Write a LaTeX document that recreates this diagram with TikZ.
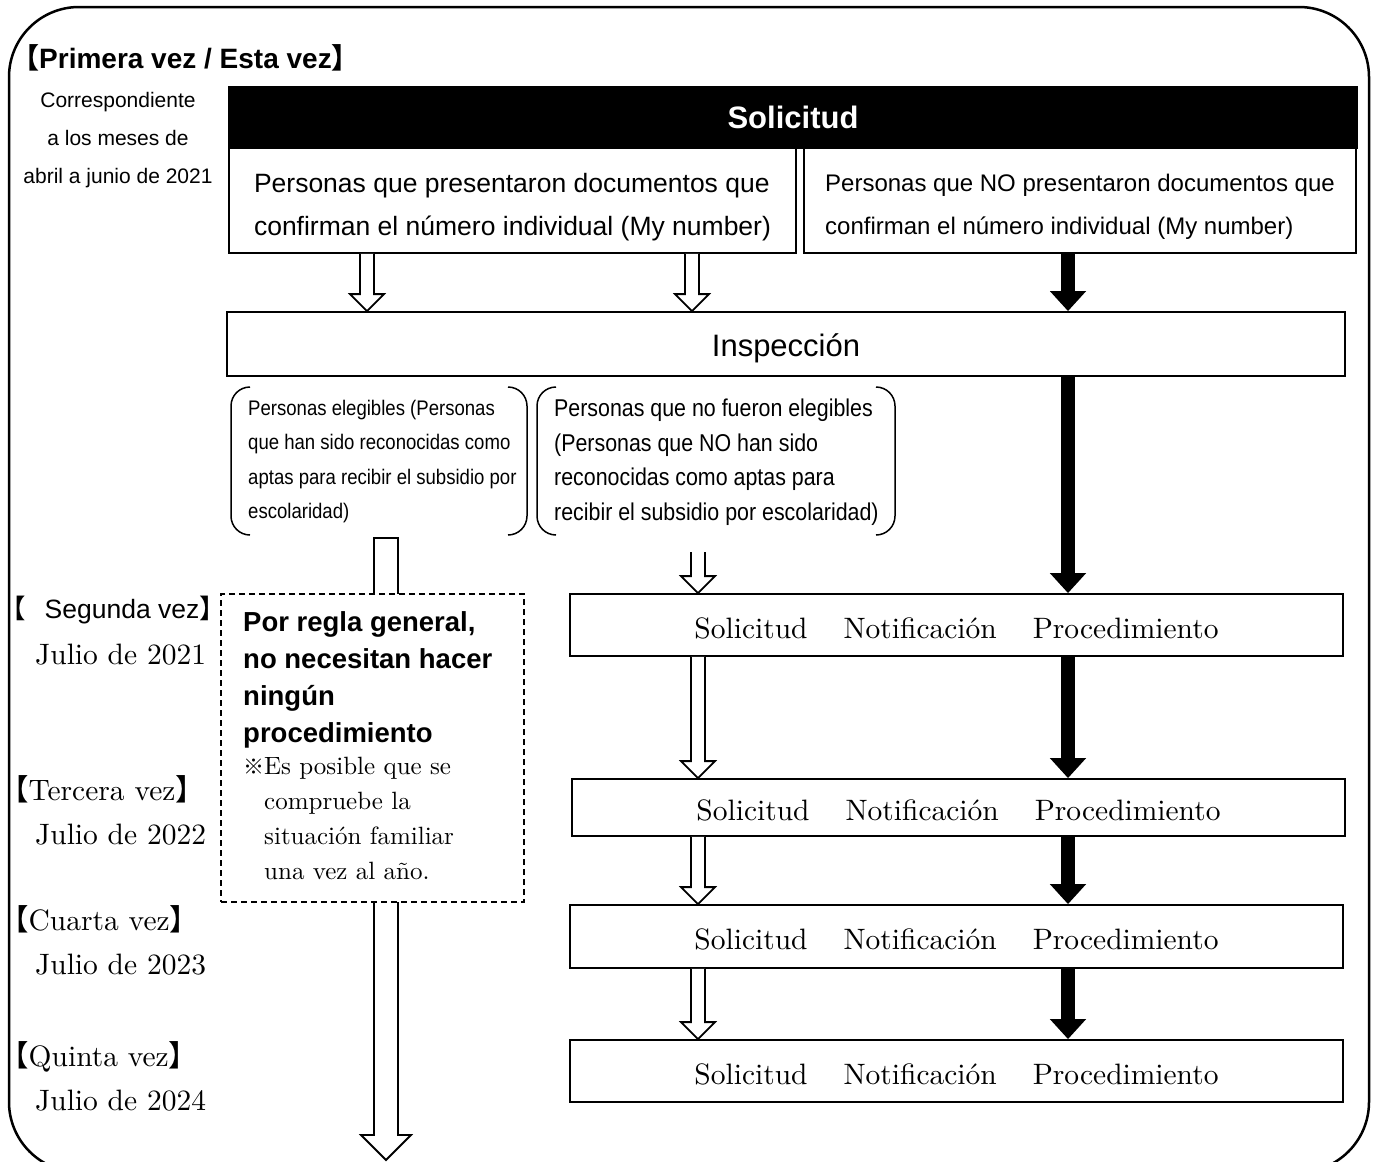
\documentclass[tikz,border=0pt]{standalone}
\usepackage{fontspec}
\setmainfont{lmroman10-regular.otf}[BoldFont=lmroman10-bold.otf]
\setsansfont{Liberation Sans}
\newfontfamily\cjk{Noto Sans CJK JP}
\newfontfamily\narrowsf[FakeStretch=0.88]{Liberation Sans}
\usetikzlibrary{calc}
\usetikzlibrary{arrows.meta}
\newcommand{\fs}[2]{\fontsize{#1}{#2}\selectfont}
\newcommand{\lb}{{\cjk 【}}
\newcommand{\rb}{{\cjk 】}}
\newcommand{\hollowarrow}[3]{%
  \draw[whitearr] let \p1=(#1 |- #2), \p2=(#1 |- #3) in
    (\x1-7pt,\y1) -- (\x1-7pt,\y2+17pt) -- (\x1-17pt,\y2+17pt) -- (\x2,\y2)
    -- (\x1+17pt,\y2+17pt) -- (\x1+7pt,\y2+17pt) -- (\x1+7pt,\y1);}

\begin{document}
\begin{tikzpicture}[x=1pt, y=-1pt,
    flowbox/.style={draw, line width=1.8pt, fill=white, inner sep=0pt},
    whitearr/.style={draw, line width=1.8pt, fill=white, line join=miter},
    blackarr/.style={line width=14pt, -{Triangle[width=35pt,length=20pt]}},
    paren/.style={line width=1.5pt, rounded corners=19pt},
    serif/.style={font=\fs{29.5}{34}, anchor=base west, inner sep=0pt}]
  \useasboundingbox (0,0) rectangle (1377,1162);
  \fill[white] (0,0) rectangle (1377,1162);
  \clip (0,0) rectangle (1377,1162);
  \draw[line width=2.5pt, rounded corners=70pt] (9,7) rectangle (1369,1172);

  % columns of the arrows
  \coordinate (colL) at (367,0);
  \coordinate (colM) at (692,0);
  \coordinate (colN) at (698,0);
  \coordinate (colR) at (1068,0);

  \node[font=\sffamily\bfseries\fs{28}{32}, anchor=base west, inner sep=0pt] (title) at (11,68) {\lb Primera vez / Esta vez\rb};
  \node[font=\sffamily\fs{21}{38}, align=center] (period) at (118,140) {Correspondiente\\a los meses de\\abril a junio de 2021};

  \node[flowbox, fill=black, text=white, font=\sffamily\bfseries\fs{31}{36}, minimum width=1128pt, minimum height=61pt] (head) at (793,117.5) {Solicitud};
  \node[flowbox, font=\sffamily\fs{26.5}{43}, align=left, minimum width=567pt, minimum height=105pt] (box1) at (512.5,200.5) {\rule{0pt}{32pt}Personas que presentaron documentos que\\confirman el número individual (My number)};
  \node[flowbox, font=\sffamily\fs{24}{43}, align=left, minimum width=552pt, minimum height=105pt] (box2) at (1080,200.5) {\rule{0pt}{30pt}Personas que NO presentaron documentos que\\confirman el número individual (My number)};
  \node[flowbox, font=\sffamily\fs{31}{36}, minimum width=1118pt, minimum height=64pt] (insp) at (786,344) {\rule{0pt}{32pt}Inspección};

  \hollowarrow{colL}{box1.south}{insp.north}
  \hollowarrow{colM}{box1.south}{insp.north}
  \draw[blackarr] (colR |- box2.south) -- (colR |- insp.north);

  % results of the inspection
  \node[font=\narrowsf\fs{21.1}{34.5}, align=left, anchor=north west, inner sep=0pt] (elig) at (248,400) {Personas elegibles (Personas\\que han sido reconocidas como\\aptas para recibir el subsidio por\\escolaridad)};
  \node[font=\narrowsf\fs{24.3}{34.5}, align=left, anchor=north west, inner sep=0pt] (noelig) at (554,399) {Personas que no fueron elegibles\\(Personas que NO han sido\\reconocidas como aptas para\\recibir el subsidio por escolaridad)};
  \draw[paren] (250,387) -- (231,387) -- (231,535) -- (250,535);
  \draw[paren] (508,387) -- (527,387) -- (527,535) -- (508,535);
  \draw[paren] (556,387) -- (537,387) -- (537,535) -- (556,535);
  \draw[paren] (876,387) -- (895,387) -- (895,535) -- (876,535);

  % long arrow behind the dashed box
  \coordinate (bigtop) at (386,538);
  \coordinate (bigtip) at (386,1160);
  \draw[whitearr] let \p1=(bigtop), \p2=(bigtip) in
    (\x1-12pt,\y1) -- (\x1-12pt,\y2+25pt) -- (\x1-25pt,\y2+25pt) -- (\x2,\y2)
    -- (\x1+25pt,\y2+25pt) -- (\x1+12pt,\y2+25pt) -- (\x1+12pt,\y1) -- cycle;

  \node[draw, dash pattern=on 6pt off 4pt, line width=1.3pt, fill=white, minimum width=303pt, minimum height=308pt, inner sep=0pt] (rulebox) at (372.5,748) {};
  \node[font=\sffamily\bfseries\fs{27.5}{37}, align=left, anchor=north west, inner sep=0pt] (rule) at (243,611) {Por regla general,\\no necesitan hacer\\ningún\\procedimiento};
  \node[font=\fs{25}{35}, align=left, anchor=north west, inner sep=0pt] (note) at (243,757) {{\cjk\fs{21}{35}※}Es posible que se\\\hspace*{21pt}compruebe la\\\hspace*{21pt}situación familiar\\\hspace*{21pt}una vez al año.};

  % yearly steps
  \foreach \nm/\xc/\yc/\hh in {rowA/956.5/625/62, rowB/958.5/807.5/57, rowC/956.5/936.5/63, rowD/956.5/1071/62}
    \node[flowbox, font=\fs{29.5}{36}, minimum width=773pt, minimum height=\hh pt] (\nm) at (\xc,\yc) {\rule{0pt}{27pt}Solicitud\hspace{36pt}Notificación\hspace{36pt}Procedimiento};

  \draw[blackarr] (colR |- insp.south) -- (colR |- rowA.north);
  \coordinate (nstart) at (698,552);
  \hollowarrow{colN}{nstart}{rowA.north}
  \foreach \a/\b in {rowA/rowB, rowB/rowC, rowC/rowD} {
    \hollowarrow{colN}{\a.south}{\b.north}
    \draw[blackarr] (colR |- \a.south) -- (colR |- \b.north);
  }

  % left labels
  \node[font=\sffamily\fs{26.5}{30}, anchor=base west, inner sep=0pt] (lab2) at (-1,618.5) {\lb\hspace{19pt}Segunda vez\rb};
  \node[serif] (yr2) at (35,664) {Julio de 2021};
  \foreach \k/\lab/\yr/\yc in {3/Tercera/2022/800, 4/Cuarta/2023/930, 5/Quinta/2024/1066} {
    \node[serif] (lab\k) at (-1,\yc) {\lb\lab\ vez\rb};
    \node[serif] (yr\k) at (35,\yc+44) {Julio de \yr};
  }
\end{tikzpicture}
\end{document}
